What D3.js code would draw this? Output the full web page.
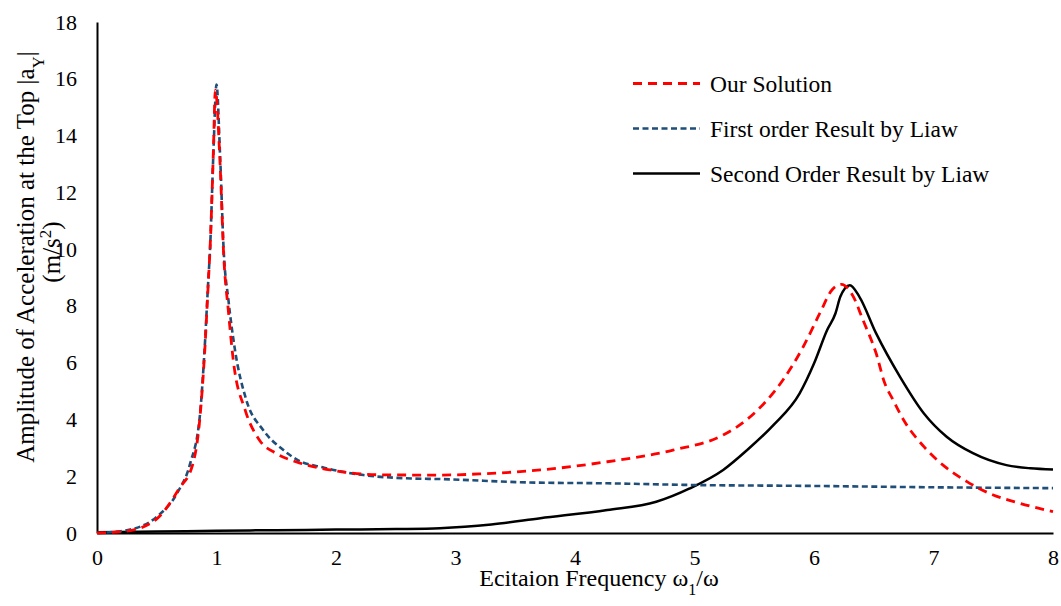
<!DOCTYPE html>
<html>
<head>
<meta charset="utf-8">
<script src="https://cdn.jsdelivr.net/npm/d3@7"></script>
<style>
  html, body { margin: 0; padding: 0; background: #fff; }
</style>
</head>
<body>
<svg id="fig" width="1061" height="606" font-family="Liberation Serif"></svg>
<script>
// Frequency ratio (x) and acceleration amplitude (y) for each series
const ourX = [0, 0.25, 0.5, 0.69, 0.8, 0.86, 0.9, 0.93, 0.95, 0.975, 0.99, 1.03, 1.06, 1.1, 1.14, 1.24, 1.36, 1.5, 1.67, 1.8, 1.95, 2.37, 2.87, 3.2, 3.71, 4.27, 4.82, 5.24, 5.44, 5.74, 5.91, 6.05, 6.15, 6.23, 6.33, 6.41, 6.52, 6.59, 6.66, 6.75, 6.92, 7.08, 7.28, 7.5, 7.72, 8.0];
const ourY = [0, 0.07, 0.5, 1.58, 2.4, 4.0, 6.3, 8.7, 10.4, 13.6, 15.6, 13.0, 9.8, 7.8, 6.1, 4.33, 3.27, 2.8, 2.5, 2.35, 2.22, 2.05, 2.04, 2.08, 2.22, 2.51, 2.92, 3.45, 4.0, 5.39, 6.56, 7.75, 8.56, 8.76, 8.32, 7.5, 6.33, 5.3, 4.7, 3.98, 3.04, 2.39, 1.81, 1.34, 1.05, 0.75];

const firstX = [0, 0.25, 0.5, 0.67, 0.78, 0.86, 0.9, 0.93, 0.946, 0.975, 1.0, 1.03, 1.06, 1.1, 1.155, 1.25, 1.39, 1.56, 1.68, 1.9, 2.23, 2.64, 2.87, 3.62, 4.27, 5.0, 5.94, 7.0, 8.0];
const firstY = [0, 0.1, 0.57, 1.4, 2.45, 4.1, 6.44, 8.8, 10.0, 13.5, 15.8, 13.3, 9.96, 8.2, 6.44, 4.68, 3.63, 2.92, 2.57, 2.3, 2.04, 1.92, 1.9, 1.78, 1.75, 1.69, 1.66, 1.61, 1.58];

const secondX = [0, 0.5, 1.0, 1.5, 2.0, 2.5, 2.87, 3.3, 3.71, 4.27, 4.68, 4.96, 5.24, 5.44, 5.66, 5.88, 6.0, 6.11, 6.18, 6.22, 6.3, 6.38, 6.52, 6.72, 6.92, 7.11, 7.33, 7.61, 7.81, 8.0];
const secondY = [0.03, 0.05, 0.08, 0.1, 0.12, 0.14, 0.17, 0.3, 0.52, 0.81, 1.1, 1.57, 2.22, 2.92, 3.8, 4.92, 5.97, 7.15, 7.74, 8.32, 8.73, 8.32, 7.03, 5.5, 4.21, 3.39, 2.81, 2.39, 2.28, 2.24];

const xTicks = [0, 1, 2, 3, 4, 5, 6, 7, 8];
const yTicks = [0, 2, 4, 6, 8, 10, 12, 14, 16, 18];

const seriesNames = ["Our Solution", "First order Result by Liaw", "Second Order Result by Liaw"];

const FONT = "Liberation Serif";

const svg = d3.select("#fig");
const x = d3.scaleLinear().domain([0, 8]).range([97, 1053]);
const y = d3.scaleLinear().domain([0, 18]).range([533, 22]);

// Axes: plain black lines, no tick marks
const xAxis = d3.axisBottom(x).tickValues(xTicks).tickSize(0).tickPadding(16).tickFormat(d3.format("d"));
const yAxis = d3.axisLeft(y).tickValues(yTicks).tickSize(0).tickPadding(20).tickFormat(d3.format("d"));

const gx = svg.append("g").attr("transform", `translate(0,${y(0)})`).call(xAxis);
const gy = svg.append("g").attr("transform", `translate(${x(0)},0)`).call(yAxis);

[gx, gy].forEach(g => {
  g.attr("font-family", FONT).attr("font-size", 22);
  g.select(".domain").attr("stroke", "#000").attr("stroke-width", 2);
  g.selectAll("text").attr("fill", "#000");
});

const line = d3.line()
  .x(d => x(d[0]))
  .y(d => y(d[1]))
  .curve(d3.curveMonotoneX);

const series = [
  { name: seriesNames[0], pts: d3.zip(ourX, ourY), color: "#ff0000", width: 2.8, dash: "9,6" },
  { name: seriesNames[1], pts: d3.zip(firstX, firstY), color: "#1f4e79", width: 2.6, dash: "6,3.5" },
  { name: seriesNames[2], pts: d3.zip(secondX, secondY), color: "#000000", width: 2.5, dash: null }
];

// Draw the solid curve first, dashed ones above it
[series[2], series[1], series[0]].forEach(s => {
  svg.append("path")
    .datum(s.pts)
    .attr("d", line)
    .attr("fill", "none")
    .attr("stroke", s.color)
    .attr("stroke-width", s.width)
    .attr("stroke-dasharray", s.dash)
    .attr("stroke-linejoin", "round");
});

// Legend
series.forEach((s, i) => {
  const ly = 83.5 + i * 45;
  svg.append("line")
    .attr("x1", 633).attr("x2", 700).attr("y1", ly).attr("y2", ly)
    .attr("stroke", s.color).attr("stroke-width", s.width)
    .attr("stroke-dasharray", s.dash);
  svg.append("text")
    .attr("x", 710).attr("y", ly + 8)
    .attr("font-family", FONT).attr("font-size", 23.5)
    .attr("fill", "#000")
    .text(s.name);
});

// Axis titles
const xt = svg.append("text")
  .attr("x", 599).attr("y", 586)
  .attr("text-anchor", "middle")
  .attr("font-family", FONT)
  .attr("font-size", 24).attr("fill", "#000");
xt.append("tspan").text("Ecitaion Frequency \u03c9");
xt.append("tspan").attr("baseline-shift", "sub").attr("font-size", 16).text("1");
xt.append("tspan").text("/\u03c9");

const yt = svg.append("text")
  .attr("transform", "translate(34,257) rotate(-90)")
  .attr("text-anchor", "middle")
  .attr("font-family", FONT)
  .attr("font-size", 25).attr("fill", "#000");
yt.append("tspan").text("Amplitude of Acceleration at the Top |a");
yt.append("tspan").attr("baseline-shift", "sub").attr("font-size", 17).text("Y");
yt.append("tspan").text("|");

const yt2 = svg.append("text")
  .attr("transform", "translate(60,252) rotate(-90)")
  .attr("text-anchor", "middle")
  .attr("font-family", FONT)
  .attr("font-size", 25).attr("fill", "#000");
yt2.append("tspan").text("(m/s");
yt2.append("tspan").attr("baseline-shift", "super").attr("font-size", 17).text("2");
yt2.append("tspan").text(")");
</script>
</body>
</html>
